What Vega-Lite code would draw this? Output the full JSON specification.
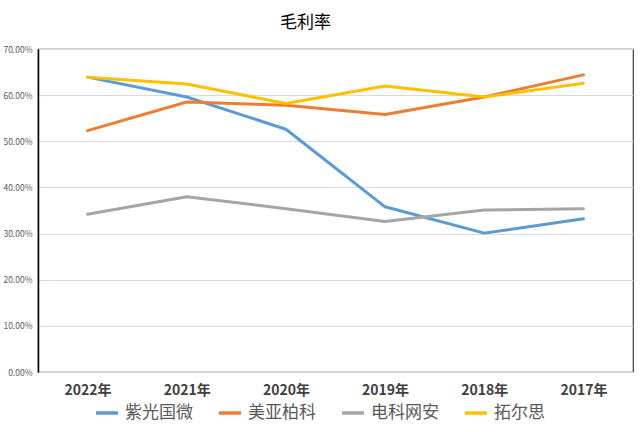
{
  "$schema": "https://vega.github.io/schema/vega-lite/v6.json",
  "autosize": "none",
  "width": 595,
  "height": 323,
  "padding": {"left": 38, "top": 49, "right": 7, "bottom": 60},
  "background": "white",
  "title": {
    "text": "毛利率",
    "font": "Noto Sans CJK SC",
    "fontSize": 17,
    "fontWeight": "normal",
    "color": "#000000",
    "anchor": "middle",
    "dx": -30,
    "offset": 13
  },
  "config": {
    "view": {"stroke": "#404040", "strokeWidth": 1.2},
    "font": "Noto Sans CJK SC"
  },
  "data": {
    "values": [
      {"year": "2022年", "company": "紫光国微", "rate": 0.639},
      {"year": "2021年", "company": "紫光国微", "rate": 0.596},
      {"year": "2020年", "company": "紫光国微", "rate": 0.526},
      {"year": "2019年", "company": "紫光国微", "rate": 0.358},
      {"year": "2018年", "company": "紫光国微", "rate": 0.301},
      {"year": "2017年", "company": "紫光国微", "rate": 0.332},
      {"year": "2022年", "company": "美亚柏科", "rate": 0.523},
      {"year": "2021年", "company": "美亚柏科", "rate": 0.585},
      {"year": "2020年", "company": "美亚柏科", "rate": 0.578},
      {"year": "2019年", "company": "美亚柏科", "rate": 0.558},
      {"year": "2018年", "company": "美亚柏科", "rate": 0.596},
      {"year": "2017年", "company": "美亚柏科", "rate": 0.644},
      {"year": "2022年", "company": "电科网安", "rate": 0.342},
      {"year": "2021年", "company": "电科网安", "rate": 0.380},
      {"year": "2020年", "company": "电科网安", "rate": 0.354},
      {"year": "2019年", "company": "电科网安", "rate": 0.326},
      {"year": "2018年", "company": "电科网安", "rate": 0.351},
      {"year": "2017年", "company": "电科网安", "rate": 0.354},
      {"year": "2022年", "company": "拓尔思", "rate": 0.639},
      {"year": "2021年", "company": "拓尔思", "rate": 0.624},
      {"year": "2020年", "company": "拓尔思", "rate": 0.582},
      {"year": "2019年", "company": "拓尔思", "rate": 0.620},
      {"year": "2018年", "company": "拓尔思", "rate": 0.596},
      {"year": "2017年", "company": "拓尔思", "rate": 0.626}
    ]
  },
  "mark": {"type": "line", "strokeWidth": 3, "strokeCap": "round", "strokeJoin": "round"},
  "encoding": {
    "x": {
      "field": "year",
      "type": "nominal",
      "sort": null,
      "scale": {"type": "point", "padding": 0.5},
      "axis": {
        "title": null,
        "labelAngle": 0,
        "labelFontSize": 14,
        "labelFontWeight": "bold",
        "labelColor": "#404040",
        "labelPadding": 11,
        "ticks": false,
        "grid": false,
        "domainColor": "#d9d9d9",
        "domainWidth": 1.2
      }
    },
    "y": {
      "field": "rate",
      "type": "quantitative",
      "scale": {"domain": [0, 0.7]},
      "axis": {
        "title": null,
        "format": ".2%",
        "values": [0, 0.1, 0.2, 0.3, 0.4, 0.5, 0.6, 0.7],
        "labelFontSize": 8.5,
        "labelColor": "#595959",
        "labelPadding": 6,
        "ticks": false,
        "gridColor": "#d9d9d9",
        "gridWidth": 1,
        "domainColor": "#000000",
        "domainWidth": 1.5
      }
    },
    "color": {
      "field": "company",
      "type": "nominal",
      "scale": {
        "domain": ["紫光国微", "美亚柏科", "电科网安", "拓尔思"],
        "range": ["#5B9BD5", "#ED7D31", "#A5A5A5", "#FFC000"]
      },
      "legend": {
        "title": null,
        "orient": "none",
        "legendX": 56,
        "legendY": 351,
        "direction": "horizontal",
        "symbolType": "stroke",
        "symbolSize": 484,
        "symbolStrokeWidth": 3.5,
        "labelFontSize": 17,
        "labelColor": "#595959",
        "labelOffset": 5,
        "columnPadding": 19,
        "labelLimit": 200
      }
    }
  }
}
